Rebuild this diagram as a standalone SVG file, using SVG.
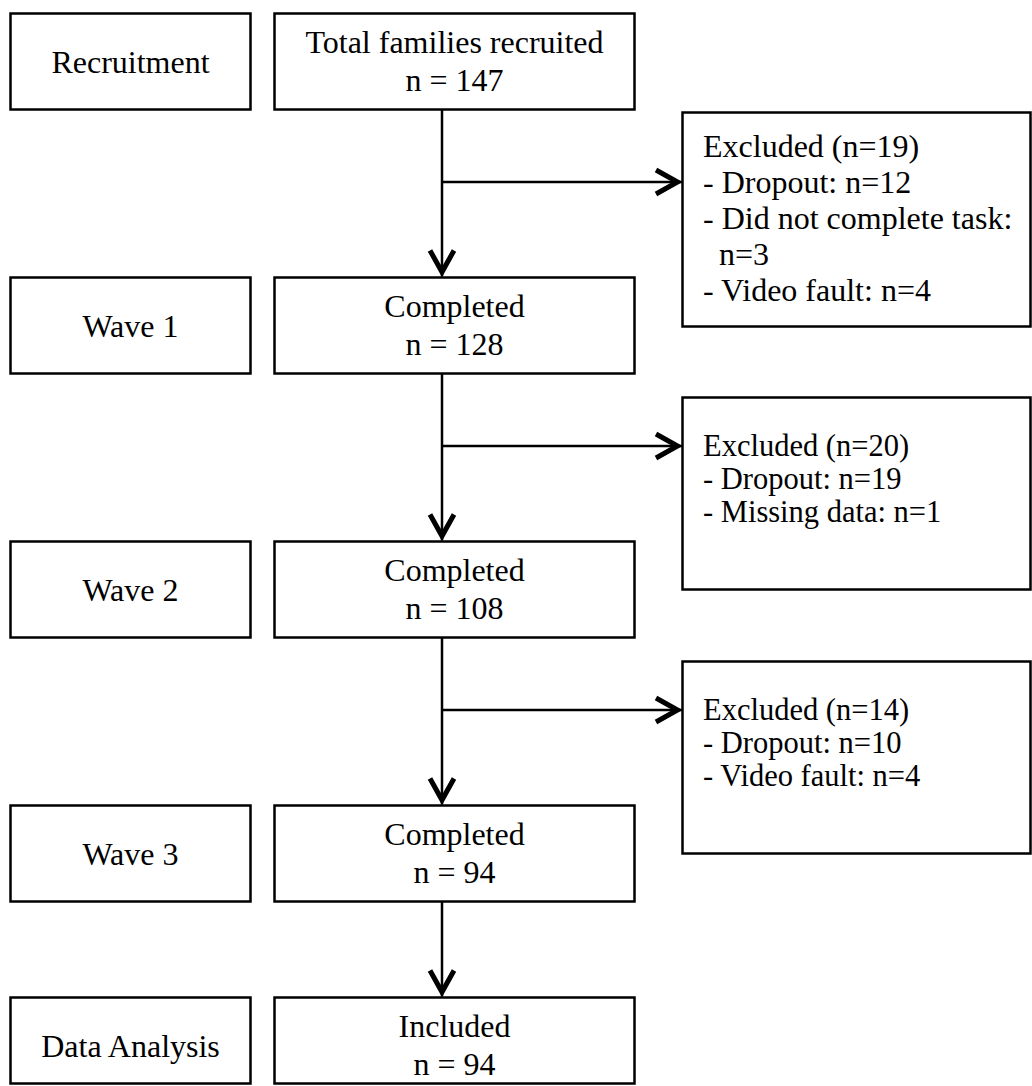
<svg xmlns="http://www.w3.org/2000/svg" width="1032" height="1086" viewBox="0 0 1032 1086">
<style>
.box{fill:#fff;stroke:#000;stroke-width:2.5}
.t{font-family:"Liberation Serif","Times New Roman",serif;font-size:32px;fill:#000}
.s{font-size:30.5px}
.c{text-anchor:middle}
.ln{fill:none;stroke:#000;stroke-width:2.5}
</style>
<defs>
<marker id="ah" markerUnits="userSpaceOnUse" viewBox="-30 -16 34 32" markerWidth="34" markerHeight="32" refX="0" refY="0" orient="auto" overflow="visible">
<path d="M-26,-12 L-4.5,0 L-26,12" fill="none" stroke="#000" stroke-width="5" stroke-linejoin="miter"/>
</marker>
</defs>
<rect width="1032" height="1086" fill="#fff"/>
<g id="connectors">
<line class="ln" x1="442" y1="109" x2="442" y2="276.5" marker-end="url(#ah)"/>
<line class="ln" x1="442" y1="182" x2="682" y2="182" marker-end="url(#ah)"/>
<line class="ln" x1="442" y1="373" x2="442" y2="540.5" marker-end="url(#ah)"/>
<line class="ln" x1="442" y1="446" x2="682" y2="446" marker-end="url(#ah)"/>
<line class="ln" x1="442" y1="637" x2="442" y2="804.5" marker-end="url(#ah)"/>
<line class="ln" x1="442" y1="710" x2="682" y2="710" marker-end="url(#ah)"/>
<line class="ln" x1="442" y1="901" x2="442" y2="996.5" marker-end="url(#ah)"/>
</g>
<g id="recruitment">
<rect class="box" x="10.5" y="13.5" width="240" height="96"/>
<text class="t c" x="130.5" y="73">Recruitment</text>
</g>
<g id="total">
<rect class="box" x="274.5" y="13.5" width="360" height="96"/>
<text class="t c" x="454.5" y="53">Total families recruited</text>
<text class="t c" x="454.5" y="91">n = 147</text>
</g>
<g id="excluded1">
<rect class="box" x="682.5" y="112.5" width="348" height="214"/>
<text class="t" x="703" y="157">Excluded (n=19)</text>
<text class="t" x="703" y="193">- Dropout: n=12</text>
<text class="t" x="703" y="229">- Did not complete task:</text>
<text class="t" x="719" y="265">n=3</text>
<text class="t" x="703" y="301">- Video fault: n=4</text>
</g>
<g id="wave1">
<rect class="box" x="10.5" y="277.5" width="240" height="96"/>
<text class="t c" x="130.5" y="337">Wave 1</text>
</g>
<g id="completed1">
<rect class="box" x="274.5" y="277.5" width="360" height="96"/>
<text class="t c" x="454.5" y="317">Completed</text>
<text class="t c" x="454.5" y="355">n = 128</text>
</g>
<g id="excluded2">
<rect class="box" x="682.5" y="397.5" width="348" height="192"/>
<text class="t s" x="703" y="456">Excluded (n=20)</text>
<text class="t s" x="703" y="489">- Dropout: n=19</text>
<text class="t s" x="703" y="522">- Missing data: n=1</text>
</g>
<g id="wave2">
<rect class="box" x="10.5" y="541.5" width="240" height="96"/>
<text class="t c" x="130.5" y="601">Wave 2</text>
</g>
<g id="completed2">
<rect class="box" x="274.5" y="541.5" width="360" height="96"/>
<text class="t c" x="454.5" y="581">Completed</text>
<text class="t c" x="454.5" y="619">n = 108</text>
</g>
<g id="excluded3">
<rect class="box" x="682.5" y="661.5" width="348" height="192"/>
<text class="t s" x="703" y="720">Excluded (n=14)</text>
<text class="t s" x="703" y="753">- Dropout: n=10</text>
<text class="t s" x="703" y="786">- Video fault: n=4</text>
</g>
<g id="wave3">
<rect class="box" x="10.5" y="805.5" width="240" height="96"/>
<text class="t c" x="130.5" y="865">Wave 3</text>
</g>
<g id="completed3">
<rect class="box" x="274.5" y="805.5" width="360" height="96"/>
<text class="t c" x="454.5" y="845">Completed</text>
<text class="t c" x="454.5" y="883">n = 94</text>
</g>
<g id="dataanalysis">
<rect class="box" x="10.5" y="997.5" width="240" height="86"/>
<text class="t c" x="130.5" y="1057">Data Analysis</text>
</g>
<g id="included">
<rect class="box" x="274.5" y="997.5" width="360" height="86"/>
<text class="t c" x="454.5" y="1037">Included</text>
<text class="t c" x="454.5" y="1075">n = 94</text>
</g>
</svg>
